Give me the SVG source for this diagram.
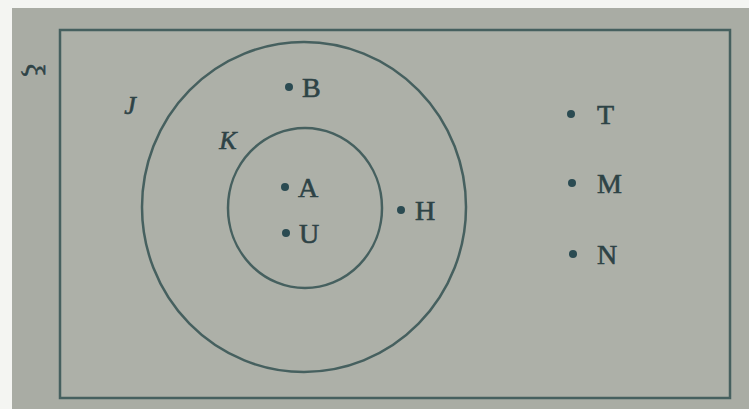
<svg xmlns="http://www.w3.org/2000/svg" width="749" height="409" viewBox="0 0 749 409">
<style>
.ln{fill:none;stroke:#46605f;stroke-width:2.5}
.dot{fill:#2b4b52}
.lb{font-family:"Liberation Serif",serif;font-size:28px;fill:#2e4346;stroke:#2e4346;stroke-width:0.6}
.it{font-family:"Liberation Serif",serif;font-size:26px;font-style:italic;fill:#2e4346;stroke:#2e4346;stroke-width:0.6}
</style>
<rect x="0" y="0" width="749" height="409" fill="#f4f5f2"/>
<rect x="12" y="8" width="737" height="401" fill="#a9aca4"/>
<rect x="60" y="30" width="670" height="368" fill="#adb0a8" stroke="#46605f" stroke-width="2.5"/>
<text class="lb" transform="translate(35,70) rotate(90)" text-anchor="middle" dominant-baseline="central" font-size="30">ξ</text>
<g id="J">
<ellipse class="ln" cx="304" cy="207" rx="162" ry="165"/>
<text class="it" x="130" y="114" text-anchor="middle">J</text>
</g>
<g id="K">
<ellipse class="ln" cx="305" cy="208" rx="77" ry="80"/>
<text class="it" x="228" y="149" text-anchor="middle">K</text>
</g>
<g id="B"><circle class="dot" cx="289" cy="87" r="4"/><text class="lb" x="302" y="97">B</text></g>
<g id="A"><circle class="dot" cx="285" cy="187" r="4"/><text class="lb" x="298" y="197">A</text></g>
<g id="U"><circle class="dot" cx="286" cy="233" r="4"/><text class="lb" x="299" y="243">U</text></g>
<g id="H"><circle class="dot" cx="401" cy="210" r="4"/><text class="lb" x="415" y="220">H</text></g>
<g id="T"><circle class="dot" cx="571" cy="114" r="4"/><text class="lb" x="597" y="124">T</text></g>
<g id="M"><circle class="dot" cx="572" cy="183" r="4"/><text class="lb" x="597" y="193">M</text></g>
<g id="N"><circle class="dot" cx="573" cy="254" r="4"/><text class="lb" x="597" y="264">N</text></g>
<g id="connectors"></g>
</svg>
